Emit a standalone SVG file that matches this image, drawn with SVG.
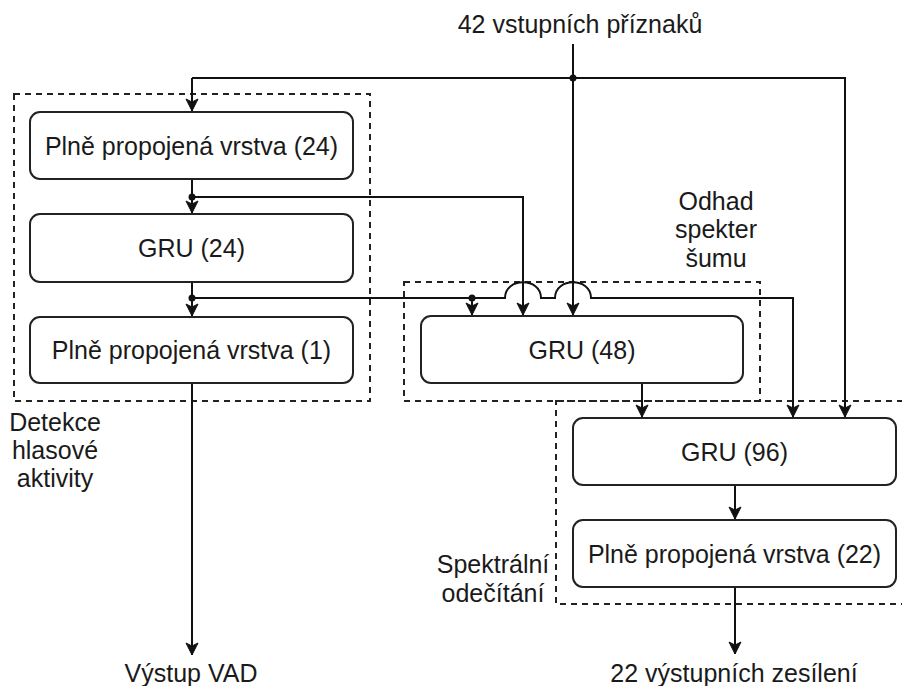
<svg xmlns="http://www.w3.org/2000/svg" width="902" height="686" viewBox="0 0 902 686">
  <style>
    .node { fill: #ffffff; stroke: #222222; stroke-width: 2; }
    .group { fill: none; stroke: #222222; stroke-width: 2; stroke-dasharray: 6 5; }
    .wire { fill: none; stroke: #111111; stroke-width: 2; }
    .dot { fill: #111111; }
    text { font-family: "Liberation Sans", Arial, sans-serif; font-size: 25px; fill: #1a1a1a; text-anchor: middle; }
  </style>
  <defs>
    <marker id="arrow" viewBox="-13 -7 14 14" refX="0" refY="0" markerWidth="14" markerHeight="14" markerUnits="userSpaceOnUse" orient="auto">
      <path d="M0,0 L-12,-6 L-9,0 L-12,6 Z" fill="#111111" stroke="#111111" stroke-width="1" stroke-linejoin="miter"/>
    </marker>
  </defs>
  <rect width="902" height="686" fill="#ffffff"/>

  <!-- dashed sub-network groups -->
  <g id="groups">
    <rect class="group" x="14" y="94" width="356" height="307"/>
    <rect class="group" x="404" y="282" width="356" height="119"/>
    <rect class="group" x="556" y="401" width="360" height="203"/>
  </g>

  <!-- connectors -->
  <g id="connectors">
    <!-- input bus -->
    <path class="wire" d="M573,44 V315" marker-end="url(#arrow)"/>
    <path class="wire" d="M192,78 H845 V417" marker-end="url(#arrow)"/>
    <path class="wire" d="M192,78 V111" marker-end="url(#arrow)"/>
    <circle class="dot" cx="573" cy="78" r="3.5"/>
    <!-- FC(24) -> GRU(24), branch to GRU(48) -->
    <path class="wire" d="M192,179 V213" marker-end="url(#arrow)"/>
    <path class="wire" d="M192,197 H523 V315" marker-end="url(#arrow)"/>
    <circle class="dot" cx="192" cy="197" r="3.5"/>
    <!-- GRU(24) -> FC(1), branches to GRU(48) and GRU(96) -->
    <path class="wire" d="M192,282 V316" marker-end="url(#arrow)"/>
    <path class="wire" d="M192,298 H505 C505,277 541,277 541,298 H555 C555,277 591,277 591,298 H793 V417" marker-end="url(#arrow)"/>
    <path class="wire" d="M472,298 V315" marker-end="url(#arrow)"/>
    <circle class="dot" cx="192" cy="298" r="3.5"/>
    <circle class="dot" cx="472" cy="298" r="3.5"/>
    <!-- outputs -->
    <path class="wire" d="M192,383 V655" marker-end="url(#arrow)"/>
    <path class="wire" d="M642,383 V417" marker-end="url(#arrow)"/>
    <path class="wire" d="M735,485 V519" marker-end="url(#arrow)"/>
    <path class="wire" d="M735,587 V654" marker-end="url(#arrow)"/>
  </g>

  <g id="fc24">
    <rect class="node" x="30" y="112" width="323" height="67" rx="10"/>
    <text x="191.5" y="155">Plně propojená vrstva (24)</text>
  </g>
  <g id="gru24">
    <rect class="node" x="30" y="214" width="323" height="68" rx="10"/>
    <text x="191.5" y="257">GRU (24)</text>
  </g>
  <g id="fc1">
    <rect class="node" x="30" y="317" width="323" height="66" rx="10"/>
    <text x="191.5" y="359">Plně propojená vrstva (1)</text>
  </g>
  <g id="gru48">
    <rect class="node" x="421" y="316" width="322" height="67" rx="10"/>
    <text x="582" y="359">GRU (48)</text>
  </g>
  <g id="gru96">
    <rect class="node" x="573" y="418" width="323" height="67" rx="10"/>
    <text x="734.5" y="461">GRU (96)</text>
  </g>
  <g id="fc22">
    <rect class="node" x="573" y="520" width="323" height="67" rx="10"/>
    <text x="734.5" y="563">Plně propojená vrstva (22)</text>
  </g>

  <!-- labels -->
  <g id="labels">
    <text x="580" y="33">42 vstupních příznaků</text>
    <text x="716" y="210">Odhad</text>
    <text x="716" y="238">spekter</text>
    <text x="716" y="267">šumu</text>
    <text x="55" y="431">Detekce</text>
    <text x="55" y="459">hlasové</text>
    <text x="55" y="487">aktivity</text>
    <text x="493" y="573">Spektrální</text>
    <text x="493" y="602">odečítání</text>
    <text x="191" y="682">Výstup VAD</text>
    <text x="734" y="682">22 výstupních zesílení</text>
  </g>
</svg>
